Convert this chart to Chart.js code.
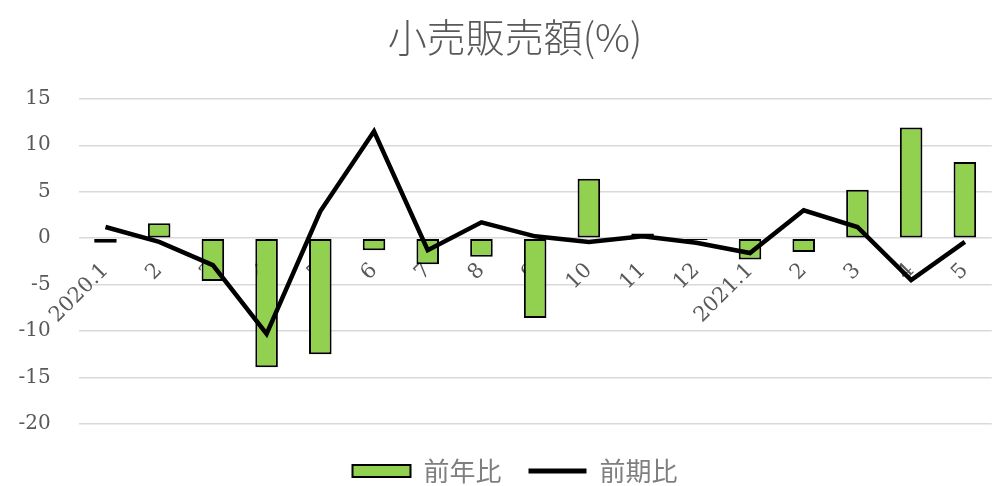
<!DOCTYPE html>
<html>
<head>
<meta charset="utf-8">
<script src="https://cdn.jsdelivr.net/npm/chart.js@4/dist/chart.umd.min.js"></script>
<style>
html,body{margin:0;padding:0;background:#fff;}
#wrap{width:1003px;height:486px;position:relative;overflow:hidden;}
</style>
</head>
<body>
<div id="wrap"><canvas id="c"></canvas></div>
<script>
const categories = ["2020.1","2","3","4","5","6","7","8","9","10","11","12","2021.1","2","3","4","5"];
const yoyValues = [-0.5, 1.6, -4.6, -13.9, -12.5, -1.3, -2.8, -2.0, -8.6, 6.4, 0.5, -0.2, -2.3, -1.5, 5.2, 11.9, 8.2];
const momValues = [1.2, -0.4, -2.9, -10.3, 2.9, 11.5, -1.3, 1.7, 0.2, -0.4, 0.2, -0.5, -1.6, 3.0, 1.2, -4.5, -0.4];
const seriesNames = ["前年比", "前期比"];
const titleText = "小売販売額(%)";
const yMin = -20, yMax = 15, yStep = 5;

const gray = "#595959";
new Chart(document.getElementById("c"), {
  type: "bar",
  data: {
    labels: categories,
    datasets: [
      {
        type: "bar",
        label: seriesNames[0],
        data: yoyValues,
        xAxisID: "x",
        backgroundColor: "#92d050",
        borderColor: "#000000",
        borderWidth: 2,
        borderSkipped: false,
        barPercentage: 0.42,
        categoryPercentage: 1.0,
        order: 1
      },
      {
        type: "line",
        label: seriesNames[1],
        data: momValues,
        xAxisID: "x",
        borderColor: "#000000",
        backgroundColor: "#000000",
        borderWidth: 4.5,
        pointRadius: 0,
        tension: 0,
        fill: false,
        order: 0
      }
    ]
  },
  options: {
    responsive: true,
    maintainAspectRatio: false,
    animation: false,
    layout: { padding: { left: 18, right: -9, top: 0, bottom: -8 } },
    plugins: {
      title: {
        display: true,
        text: titleText,
        color: gray,
        font: { family: "'Noto Sans CJK JP'", size: 39, weight: "300" },
        padding: { top: 14, bottom: 38 }
      },
      legend: {
        position: "bottom",
        labels: {
          color: "#7f7f7f",
          font: { family: "'Noto Sans CJK JP'", size: 26 },
          usePointStyle: true,
          pointStyleWidth: 58,
          boxHeight: 12,
          padding: 27,
          generateLabels: function(chart) {
            return chart.data.datasets.map(function(ds, i) {
              const isLine = ds.type === "line";
              return {
                text: ds.label,
                datasetIndex: i,
                fillStyle: ds.backgroundColor,
                strokeStyle: ds.borderColor,
                lineWidth: isLine ? 5 : 2,
                pointStyle: isLine ? "line" : "rect",
                fontColor: "#7f7f7f",
                hidden: false
              };
            });
          }
        }
      },
      tooltip: { enabled: false }
    },
    scales: {
      x: {
        position: { y: 0 },
        grid: { display: false, drawTicks: false },
        border: { display: false },
        ticks: {
          color: gray,
          font: { family: "'DejaVu Serif'", size: 21 },
          minRotation: 45,
          maxRotation: 45,
          autoSkip: false,
          padding: 20
        }
      },
      xb: {
        axis: "x",
        type: "category",
        position: "bottom",
        grid: { display: false, drawTicks: false },
        border: { display: false },
        ticks: { display: false },
        afterFit: function(s) { s.height = 7; }
      },
      y: {
        min: yMin,
        max: yMax,
        grid: { color: "#d9d9d9", lineWidth: 1.5, drawTicks: false },
        border: { display: false },
        afterFit: function(s) { s.width = 60.6; },
        ticks: {
          stepSize: yStep,
          color: gray,
          font: { family: "'DejaVu Serif'", size: 20 },
          padding: 28
        }
      }
    }
  }
});
</script>
</body>
</html>
